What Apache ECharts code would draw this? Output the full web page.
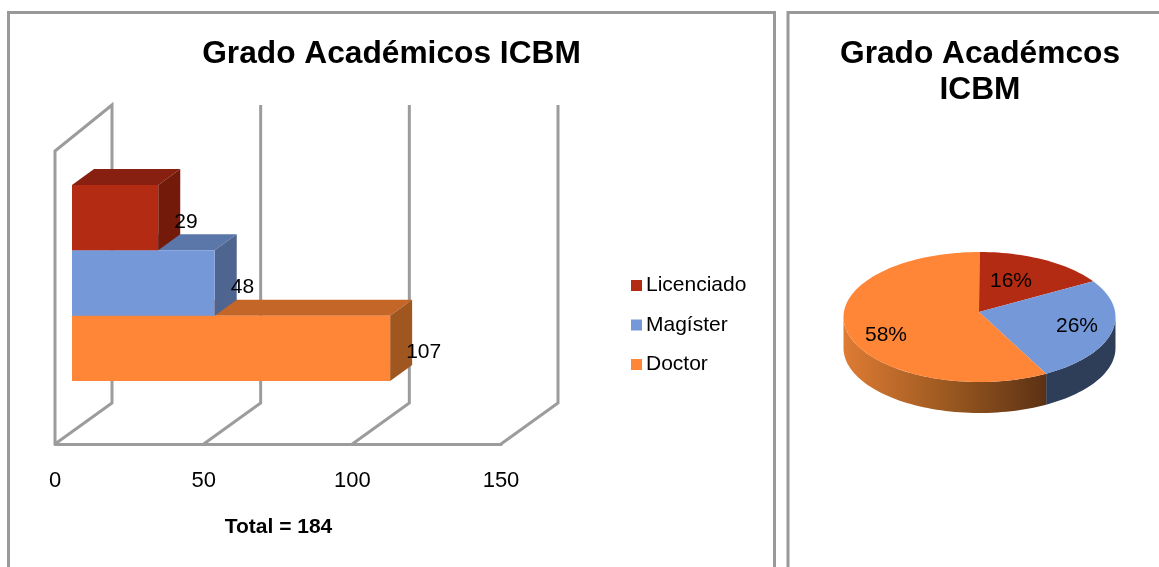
<!DOCTYPE html>
<html><head><meta charset="utf-8">
<style>html,body{margin:0;padding:0;background:#fff}#c{width:1159px;height:567px}</style>
<script src="https://cdn.jsdelivr.net/npm/echarts@6/dist/echarts.min.js"></script>
</head><body><div id="c"></div>
<script>
const degrees = ['Licenciado', 'Magíster', 'Doctor'];
const counts = [29, 48, 107];
const xTicks = [0, 50, 100, 150];
const barTitle = 'Grado Académicos ICBM';
const pieTitle = 'Grado Académcos\nICBM';
const totalLabel = 'Total = 184';

const front = ['#B22B12', '#7598D9', '#FF8537'];
const topFace = ['#872010', '#5B76A9', '#C46628'];
const sideFace = ['#731A0B', '#4E6590', '#A0561F'];
const FONT = '"Liberation Sans", Arial, sans-serif';
const WALL = '#9C9C9C';

const chart = echarts.init(document.getElementById('c'));

const wallSeries = {
  type: 'custom', silent: true, z: 1,
  encode: {x: 0, y: 1},
  data: xTicks.map(t => [t, 'g']),
  renderItem(params, api) {
    const p = api.coord([api.value(0), 'g']);
    const size = api.size([0, 1])[1];
    const x = p[0], floor = p[1] + size / 2, top = p[1] - size / 2;
    const dx = 57, dy = 41, up = 46;
    const pts = params.dataIndex === 0
      ? [[x, floor], [x, top], [x + dx, top - up], [x + dx, floor - dy], [x, floor]]
      : [[x, floor], [x + dx, floor - dy], [x + dx, top - up]];
    return {type: 'polyline', shape: {points: pts},
      style: {stroke: WALL, lineWidth: 3, fill: null}};
  }
};

function barSeries(i) {
  return {
    type: 'custom', name: degrees[i], silent: true, z: 2,
    itemStyle: {color: front[i]},
    encode: {x: 0, y: 1},
    data: [[counts[i], 'g']],
    renderItem(params, api) {
      const end = api.coord([api.value(0), 'g']);
      const start = api.coord([0, 'g']);
      const band = api.size([0, 1])[1];
      const h = band * 0.2228;
      const ox = 17, oy = -14.5, dx = 22, dy = 16;
      const x0 = start[0] + ox, x1 = end[0] + ox;
      const y0 = start[1] + oy + (i - 1.5) * h, y1 = y0 + h;
      return {type: 'group', children: [
        {type: 'polygon', shape: {points: [[x0, y0], [x0 + dx, y0 - dy], [x1 + dx, y0 - dy], [x1, y0]]}, style: {fill: topFace[i]}},
        {type: 'polygon', shape: {points: [[x1, y0], [x1 + dx, y0 - dy], [x1 + dx, y1 - dy], [x1, y1]]}, style: {fill: sideFace[i]}},
        {type: 'rect', shape: {x: x0, y: y0, width: x1 - x0, height: h}, style: {fill: front[i]}},
        {type: 'text', style: {text: String(counts[i]), x: x1 + 16, y: (y0 + y1) / 2 + 4,
          fill: '#000', font: '21px ' + FONT, align: 'left', verticalAlign: 'middle'}}
      ]};
    }
  };
}

const total = counts.reduce((a, b) => a + b, 0);
const PIE = {cx: 979.5, cy: 317, rx: 136, ry: 65, ax: 979, ay: 312, depth: 31};
function ell(deg, d) {
  const a = deg * Math.PI / 180;
  return [PIE.cx + PIE.rx * Math.sin(a), PIE.cy - PIE.ry * Math.cos(a) + (d || 0)];
}
function arc(a, b, d) {
  const n = Math.max(2, Math.ceil(Math.abs(b - a) / 2)), out = [];
  for (let k = 0; k <= n; k++) out.push(ell(a + (b - a) * k / n, d));
  return out;
}
const pieLabelPos = [[1011, 281], [1077, 326], [886, 335]];
const pieSeries = {
  type: 'custom', coordinateSystem: 'none', silent: true, z: 3,
  data: counts.slice(),
  renderItem(params, api) {
    const i = params.dataIndex;
    let before = 0;
    for (let k = 0; k < i; k++) before += counts[k];
    const a0 = before / total * 360, a1 = (before + counts[i]) / total * 360;
    const kids = [];
    const s0 = Math.max(a0, 90), s1 = Math.min(a1, 270);
    if (s1 > s0) {
      const upper = arc(s0, s1, 0), lower = arc(s0, s1, PIE.depth).reverse();
      const fill = i === 2
        ? new echarts.graphic.LinearGradient(1, 0, 0, 0, [
            {offset: 0, color: '#5C3114'}, {offset: 0.45, color: '#96561F'}, {offset: 1, color: '#DE7B34'}])
        : '#2E3D58';
      kids.push({type: 'polygon', shape: {points: upper.concat(lower)}, style: {fill}});
    }
    kids.push({type: 'polygon', shape: {points: [[PIE.ax, PIE.ay]].concat(arc(a0, a1, 0))},
      style: {fill: front[i]}});
    kids.push({type: 'text', style: {text: Math.round(counts[i] / total * 100) + '%',
      x: pieLabelPos[i][0], y: pieLabelPos[i][1], fill: '#000', font: '21px ' + FONT,
      align: 'center', verticalAlign: 'middle'}});
    return {type: 'group', children: kids};
  }
};

chart.setOption({
  animation: false,
  backgroundColor: '#fff',
  title: [
    {text: barTitle, left: 386.5, top: 33, textAlign: 'center',
      textStyle: {fontFamily: FONT, fontWeight: 'bold', fontSize: 31.7, color: '#000'}},
    {text: pieTitle, left: 975, top: 31, textAlign: 'center',
      textStyle: {fontFamily: FONT, fontWeight: 'bold', fontSize: 31.7, lineHeight: 36, color: '#000'}},
    {text: totalLabel, left: 273.5, top: 512, textAlign: 'center',
      textStyle: {fontFamily: FONT, fontWeight: 'bold', fontSize: 21, color: '#000'}}
  ],
  legend: {
    orient: 'vertical', left: 626, top: 270, itemWidth: 11, itemHeight: 11, itemGap: 18.5,
    icon: 'rect', selectedMode: false, data: degrees,
    textStyle: {fontFamily: FONT, fontSize: 21, color: '#000', padding: [0, 0, 0, -1]}
  },
  grid: {left: 55, width: 446, top: 151, height: 293, containLabel: false},
  xAxis: {
    type: 'value', min: 0, max: 150, interval: 50,
    splitLine: {show: false}, axisTick: {show: false},
    axisLine: {show: true, onZero: false, lineStyle: {color: WALL, width: 3}},
    axisLabel: {color: '#000', fontFamily: FONT, fontSize: 22, margin: 26, formatter: v => xTicks.includes(v) ? String(v) : ''}
  },
  yAxis: {type: 'category', data: ['g'], show: false},
  graphic: [
    {type: 'polyline', z: 0, silent: true, shape: {points: [[8.5, 570], [8.5, 12.5], [774.5, 12.5], [774.5, 570]]},
      style: {stroke: '#999', lineWidth: 3, fill: null}},
    {type: 'polyline', z: 0, silent: true, shape: {points: [[788, 570], [788, 12.5], [1165, 12.5]]},
      style: {stroke: '#999', lineWidth: 3, fill: null}}
  ],
  series: [wallSeries, barSeries(2), barSeries(1), barSeries(0), pieSeries]
});
</script></body></html>
